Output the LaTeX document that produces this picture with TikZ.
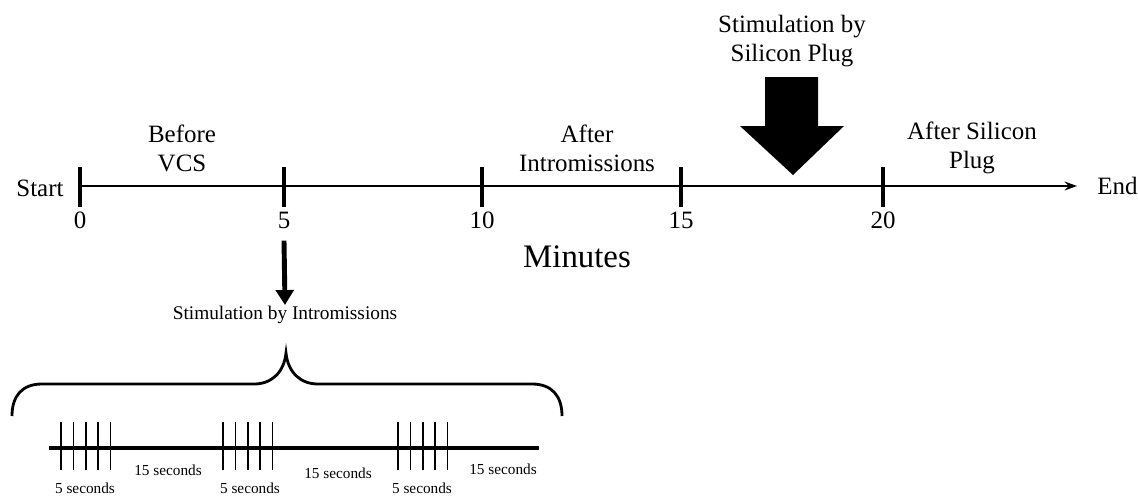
\documentclass[tikz,border=0pt]{standalone}
\usepackage{fontspec}
\setmainfont{Liberation Serif}
\usetikzlibrary{arrows.meta,positioning}

\begin{document}
\begin{tikzpicture}[x=0.02cm,y=-0.02cm,>={Stealth[length=7pt,width=5pt]},
	txt/.style={font=\fontsize{14.2}{16.5}\selectfont,align=center,inner sep=0pt},
	small/.style={font=\fontsize{11}{13}\selectfont,inner sep=0pt},
	tiny/.style={font=\fontsize{8.7}{10}\selectfont,inner sep=0pt},
	tick/.style={line width=1.8pt},
	minitick/.style={line width=0.9pt}]
		\useasboundingbox (0,0) rectangle (1138,495);
		\foreach \m/\x in {0/80,5/284,10/482,15/681,20/883}{
			\coordinate (t_\m) at (\x,186);
			\draw[tick] (t_\m) ++(0,-19) -- ++(0,40);
			\node[txt,anchor=base] (l_\m) at (\x,228) {\m};
		}
		\coordinate (axisend) at (1077,186);
		\draw[->,line width=1.2pt] (t_0) -- (axisend);
		\node[txt] (start) at (40,188) {Start};
		\node[txt,right=0.4cm of axisend] (end) {End};
		\node[txt] (before) at (182,148) {Before\\VCS};
		\node[txt] (afterint) at (587,148) {After\\Intromissions};
		\node[txt] (afterplug) at (972,148) {After Silicon\\Plug};
		\node[txt] (plug) at (792,41) {Stimulation by\\Silicon Plug};
		\node[font=\fontsize{18.7}{22}\selectfont,inner sep=0pt] (minutes) at (577,257) {Minutes};
		\fill (765,77) -- (818,77) -- (818,126) -- (844,126) -- (793,175) -- (740,126) -- (765,126) -- cycle;
		\node[small] (intro) at (285,315) {Stimulation by Intromissions};
		\draw[line width=2.8pt,-{Triangle[width=10pt,length=8.5pt]}] ([yshift=-6.8pt]l_5.south) -- ([yshift=0.5pt]intro.north);
		\draw[line width=1.6pt] (12,416) .. controls (12,396) and (22,384) .. (42,384) -- (254,384)
			.. controls (272,384) and (284,372) .. (286,353)
			.. controls (288,372) and (300,384) .. (318,384) -- (532,384)
			.. controls (552,384) and (562,396) .. (562,416);
		\draw[line width=2.4pt] (49,448) -- (539,448);
		\foreach \g in {61,223,398}
			\foreach \i in {0,...,4}
				\draw[minitick] (\g+12.4*\i,422) -- (\g+12.4*\i,470);
		\node[tiny] (s_1) at (168,470) {15 seconds};
		\node[tiny] (s_2) at (338,473) {15 seconds};
		\node[tiny] (s_3) at (503,469) {15 seconds};
		\node[tiny] (f_1) at (85,488) {5 seconds};
		\node[tiny] (f_2) at (250,488) {5 seconds};
		\node[tiny] (f_3) at (422,488) {5 seconds};
\end{tikzpicture}
\end{document}
